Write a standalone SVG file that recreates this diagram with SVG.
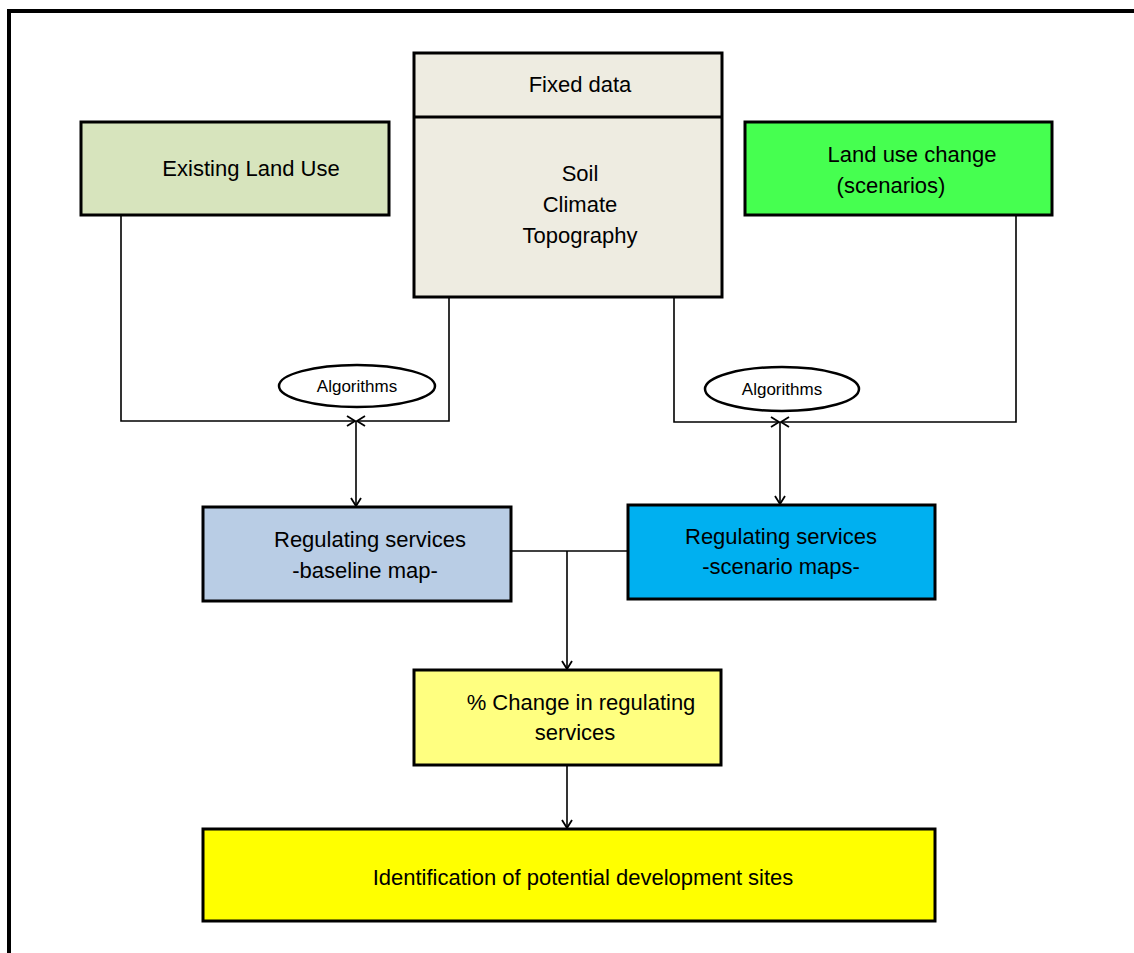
<svg xmlns="http://www.w3.org/2000/svg" width="1134" height="953" viewBox="0 0 1134 953">
<defs>
<marker id="arr" markerWidth="12" markerHeight="12" refX="10" refY="6" orient="auto" markerUnits="userSpaceOnUse">
<path d="M2,1 L10,6 L2,11" fill="none" stroke="#000" stroke-width="1.8"/>
</marker>
<style>
.box{stroke:#000;stroke-width:3}
.t{font-family:"Liberation Sans",Arial,sans-serif;font-size:22px;fill:#000;text-anchor:middle}
.s{font-family:"Liberation Sans",Arial,sans-serif;font-size:17px;fill:#000;text-anchor:middle}
.c{fill:none;stroke:#000;stroke-width:1.6}
</style>
</defs>
<rect width="1134" height="953" fill="#fff"/>
<path d="M9,960 V11 H1140" fill="none" stroke="#000" stroke-width="4"/>
<g id="connectors">
<path class="c" d="M121,215 V421 H355" marker-end="url(#arr)"/>
<path class="c" d="M449,297 V421 H357" marker-end="url(#arr)"/>
<path class="c" d="M356,421 V506" marker-end="url(#arr)"/>
<path class="c" d="M674,297 V422 H779" marker-end="url(#arr)"/>
<path class="c" d="M1016,215 V422 H781" marker-end="url(#arr)"/>
<path class="c" d="M780,422 V504" marker-end="url(#arr)"/>
<path class="c" d="M511,551 H628"/>
<path class="c" d="M567,551 V669" marker-end="url(#arr)"/>
<path class="c" d="M567,765 V828" marker-end="url(#arr)"/>
</g>
<g id="existing">
<rect class="box" x="81" y="122" width="308" height="93" fill="#D7E4BD"/>
<text class="t" x="251" y="176">Existing Land Use</text>
</g>
<g id="fixed">
<rect class="box" x="414" y="53" width="308" height="244" fill="#EEECE1"/>
<line class="box" x1="414" y1="117" x2="722" y2="117"/>
<text class="t" x="580" y="92">Fixed data</text>
<text class="t" x="580" y="181">Soil</text>
<text class="t" x="580" y="212">Climate</text>
<text class="t" x="580" y="243">Topography</text>
</g>
<g id="landusechange">
<rect class="box" x="745" y="122" width="307" height="93" fill="#46FF50"/>
<text class="t" x="912" y="162">Land use change</text>
<text class="t" x="891" y="193">(scenarios)</text>
</g>
<g id="alg1">
<ellipse cx="357" cy="386" rx="78" ry="21" fill="#fff" stroke="#000" stroke-width="2.5"/>
<text class="s" x="357" y="392">Algorithms</text>
</g>
<g id="alg2">
<ellipse cx="782" cy="389" rx="77" ry="22" fill="#fff" stroke="#000" stroke-width="2.5"/>
<text class="s" x="782" y="395">Algorithms</text>
</g>
<g id="baseline">
<rect class="box" x="203" y="507" width="308" height="94" fill="#B9CDE5"/>
<text class="t" x="370" y="547">Regulating services</text>
<text class="t" x="365" y="578">-baseline map-</text>
</g>
<g id="scenario">
<rect class="box" x="628" y="505" width="307" height="94" fill="#00B0F0"/>
<text class="t" x="781" y="544">Regulating services</text>
<text class="t" x="781" y="574">-scenario maps-</text>
</g>
<g id="change">
<rect class="box" x="414" y="670" width="307" height="95" fill="#FFFF80"/>
<text class="t" x="581" y="710">% Change in regulating</text>
<text class="t" x="575" y="740">services</text>
</g>
<g id="identification">
<rect class="box" x="203" y="829" width="732" height="92" fill="#FFFF00"/>
<text class="t" x="583" y="885">Identification of potential development sites</text>
</g>
</svg>
